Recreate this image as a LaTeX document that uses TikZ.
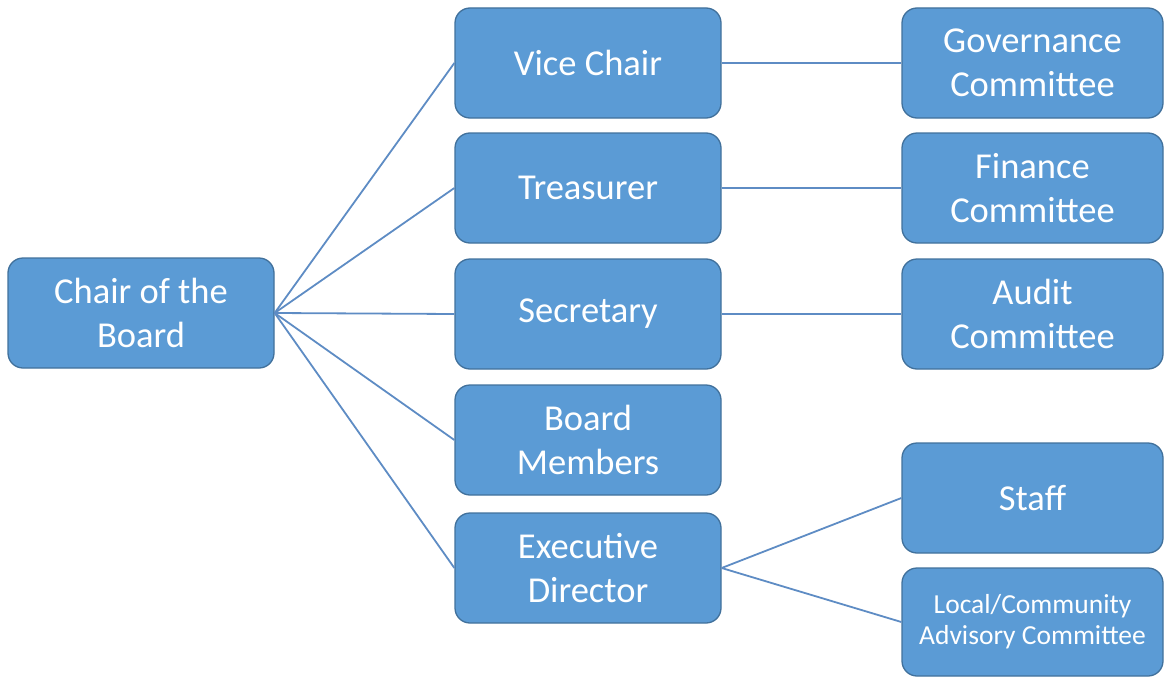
\documentclass[tikz,border=0pt]{standalone}
\usepackage{fontspec}
\setmainfont{Carlito}
\definecolor{boxfill}{HTML}{5B9BD5}
\definecolor{boxedge}{HTML}{41719C}
\definecolor{linkc}{HTML}{5E8CC4}
\begin{document}
\begin{tikzpicture}[x=1pt,y=-1pt,
  orgbox/.style={draw=boxedge, line width=1.3pt, fill=boxfill, rounded corners=15pt,
    text=white, align=center, inner sep=0pt,
    font=\fontsize{36.5}{44}\selectfont},
  widebox/.style={orgbox, minimum width=266pt, minimum height=110pt},
  rightbox/.style={orgbox, minimum width=261pt, minimum height=110pt},
  link/.style={draw=linkc, line width=1.8pt}]
\useasboundingbox (0,0) rectangle (1164,677);
\node[widebox] (chair) at (141,313) {Chair of the\\Board};
\node[widebox] (vice) at (588,63) {Vice Chair};
\node[widebox] (treas) at (588,188) {Treasurer};
\node[widebox] (sec) at (588,314) {Secretary};
\node[widebox] (members) at (588,440) {Board\\Members};
\node[widebox] (exec) at (588,568) {Executive\\Director};
\node[rightbox] (gov) at (1032.5,63) {Governance\\Committee};
\node[rightbox] (fin) at (1032.5,188) {Finance\\Committee};
\node[rightbox] (audit) at (1032.5,314) {Audit\\Committee};
\node[rightbox] (staff) at (1032.5,498) {Staff};
\node[rightbox, minimum height=108pt, font=\fontsize{27.5}{31}\selectfont] (local) at (1032.5,622) {Local/Community\\Advisory Committee};
\foreach \t in {vice,treas,sec,members,exec}
  \draw[link] (chair.east) -- (\t.west);
\draw[link] (vice.east) -- (gov.west);
\draw[link] (treas.east) -- (fin.west);
\draw[link] (sec.east) -- (audit.west);
\draw[link] (exec.east) -- (staff.west);
\draw[link] (exec.east) -- (local.west);
\end{tikzpicture}
\end{document}
